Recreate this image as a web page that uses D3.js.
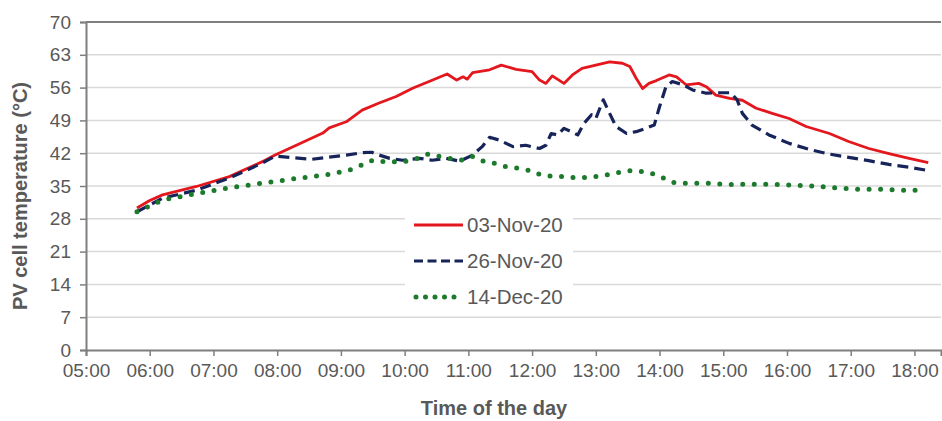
<!DOCTYPE html>
<html>
<head>
<meta charset="utf-8">
<script src="https://cdn.jsdelivr.net/npm/d3@7"></script>
<style>
  body { margin: 0; background: #fff; }
  svg { display: block; font-family: "Liberation Sans", Arial, sans-serif; }
</style>
</head>
<body>
<svg id="chart"></svg>
<script>
// series: [time, PV cell temperature °C]
const nov03 = [
  ["05:48", 30.3], ["06:00", 31.9], ["06:12", 33.1], ["06:44", 34.9], ["07:15", 37.0], ["07:46", 40.2],
  ["07:58", 41.6], ["08:18", 43.7], ["08:43", 46.3], ["08:49", 47.4], ["09:05", 48.7], ["09:20", 51.2],
  ["09:36", 52.7], ["09:52", 54.1], ["10:08", 55.9], ["10:23", 57.3], ["10:40", 58.9], ["10:49", 57.6],
  ["10:55", 58.3], ["10:59", 57.8], ["11:04", 59.2], ["11:20", 59.8], ["11:31", 60.8], ["11:45", 59.9],
  ["12:00", 59.4], ["12:07", 57.6], ["12:13", 56.9], ["12:19", 58.5], ["12:30", 56.9], ["12:38", 58.7],
  ["12:47", 60.1], ["13:00", 60.8], ["13:13", 61.5], ["13:25", 61.2], ["13:32", 60.5], ["13:38", 58.0],
  ["13:44", 55.8], ["13:50", 56.9], ["13:57", 57.5], ["14:09", 58.7], ["14:16", 58.3], ["14:25", 56.6],
  ["14:37", 56.9], ["14:44", 56.2], ["14:53", 54.4], ["15:06", 53.7], ["15:18", 53.3], ["15:31", 51.6],
  ["15:46", 50.5], ["16:02", 49.4], ["16:18", 47.7], ["16:40", 46.2], ["16:58", 44.5], ["17:17", 43.0],
  ["17:36", 41.9], ["17:55", 40.9], ["18:13", 40.0]
];
const nov26 = [
  ["05:48", 29.5], ["06:12", 32.4], ["06:44", 34.1], ["07:15", 36.7], ["07:46", 39.9], ["07:58", 41.4],
  ["08:12", 41.1], ["08:33", 40.7], ["09:05", 41.6], ["09:20", 42.1], ["09:29", 42.2], ["09:36", 41.6],
  ["09:46", 40.9], ["09:58", 40.5], ["10:14", 40.9], ["10:26", 40.5], ["10:39", 40.9], ["10:52", 40.3],
  ["11:04", 41.6], ["11:13", 43.4], ["11:20", 45.4], ["11:29", 44.8], ["11:42", 43.4], ["11:54", 43.7],
  ["12:07", 43.0], ["12:13", 43.7], ["12:18", 46.2], ["12:24", 45.9], ["12:30", 47.3], ["12:37", 46.6],
  ["12:43", 45.9], ["12:49", 48.4], ["12:56", 50.2], ["13:00", 49.4], ["13:07", 53.4], ["13:13", 50.5],
  ["13:19", 47.7], ["13:29", 46.2], ["13:38", 46.6], ["13:47", 47.3], ["13:55", 48.0], ["14:00", 51.9],
  ["14:06", 56.2], ["14:12", 57.3], ["14:22", 56.6], ["14:31", 55.5], ["14:44", 54.8], ["14:56", 54.9],
  ["15:07", 54.9], ["15:13", 53.4], ["15:18", 50.5], ["15:27", 48.0], ["15:43", 45.9], ["16:02", 44.1],
  ["16:21", 42.8], ["16:40", 41.8], ["16:58", 41.1], ["17:17", 40.4], ["17:36", 39.6], ["17:55", 39.0],
  ["18:13", 38.3]
];
const dec14 = [
  ["05:48", 29.5], ["06:12", 32.0], ["06:44", 33.4], ["07:12", 34.5], ["07:46", 35.6], ["08:18", 36.6],
  ["08:49", 37.5], ["09:08", 38.4], ["09:20", 39.5], ["09:30", 40.5], ["09:41", 40.2], ["09:52", 40.2],
  ["10:03", 40.3], ["10:12", 40.9], ["10:22", 41.8], ["10:33", 41.3], ["10:42", 40.9], ["10:53", 40.5],
  ["11:04", 41.3], ["11:15", 40.2], ["11:26", 39.8], ["11:36", 39.1], ["11:46", 38.8], ["11:58", 38.3],
  ["12:09", 37.3], ["12:18", 37.1], ["12:29", 37.0], ["12:40", 36.8], ["12:51", 36.8], ["13:02", 37.1],
  ["13:13", 37.5], ["13:22", 37.9], ["13:33", 38.3], ["13:44", 38.1], ["13:54", 37.6], ["14:05", 36.6],
  ["14:14", 35.7], ["14:25", 35.6], ["14:36", 35.6], ["14:47", 35.6], ["14:58", 35.4], ["15:08", 35.3],
  ["15:18", 35.4], ["15:40", 35.4], ["16:02", 35.2], ["16:24", 35.0], ["16:46", 34.6], ["17:08", 34.3],
  ["17:29", 34.3], ["17:52", 34.1], ["18:02", 34.1]
];
const seriesNames = ["03-Nov-20", "26-Nov-20", "14-Dec-20"];
const yTicks = [0, 7, 14, 21, 28, 35, 42, 49, 56, 63, 70];
const xTicks = ["05:00", "06:00", "07:00", "08:00", "09:00", "10:00", "11:00", "12:00", "13:00", "14:00", "15:00", "16:00", "17:00", "18:00"];

const width = 942, height = 421;
const margin = { top: 22, right: 1, bottom: 71, left: 86 };
const svg = d3.select("#chart").attr("width", width).attr("height", height);

const parse = d3.timeParse("%H:%M");
const x = d3.scaleTime().domain([parse("05:00"), parse("18:25")]).range([margin.left, width - margin.right]);
const y = d3.scaleLinear().domain([0, 70]).range([height - margin.bottom, margin.top]);

// gridlines
svg.append("g").selectAll("line").data(yTicks.slice(1, -1)).enter().append("line")
  .attr("x1", margin.left).attr("x2", width - margin.right)
  .attr("y1", d => y(d)).attr("y2", d => y(d))
  .attr("stroke", "#d9d9d9").attr("stroke-width", 1.5);

// top border
svg.append("line").attr("x1", margin.left).attr("x2", width - margin.right)
  .attr("y1", y(70)).attr("y2", y(70)).attr("stroke", "#7f7f7f").attr("stroke-width", 2);

const yAxis = svg.append("g").attr("transform", `translate(${margin.left},0)`)
  .call(d3.axisLeft(y).tickValues(yTicks).tickSize(6).tickPadding(9));
const xAxis = svg.append("g").attr("transform", `translate(0,${y(0)})`)
  .call(d3.axisBottom(x).tickValues(xTicks.map(parse)).tickFormat(d3.timeFormat("%H:%M")).tickSize(6).tickPadding(8));

[yAxis, xAxis].forEach(a => {
  a.select(".domain").attr("stroke", "#7f7f7f").attr("stroke-width", 2);
  a.selectAll(".tick line").attr("stroke", "#7f7f7f").attr("stroke-width", 1.5);
  a.selectAll("text").attr("fill", "#595959").style("font-size", "19px");
});

svg.append("text")
  .attr("transform", "rotate(-90)")
  .attr("x", -196).attr("y", 27)
  .attr("text-anchor", "middle")
  .style("font-size", "20px").style("font-weight", "bold").style("fill", "#595959")
  .text("PV cell temperature (°C)");

svg.append("text")
  .attr("x", 494).attr("y", 415)
  .attr("text-anchor", "middle")
  .style("font-size", "20px").style("font-weight", "bold").style("fill", "#595959")
  .text("Time of the day");

const line = d3.line().x(d => x(parse(d[0]))).y(d => y(d[1]));

const styles = [
  { color: "#e3171d", width: 2.8, dash: null, cap: "butt" },
  { color: "#16245a", width: 3.2, dash: "11,6", cap: "butt" },
  { color: "#1b7a2c", width: 5, dash: "0,11.5", cap: "round" }
];

[nov03, nov26, dec14].forEach((s, i) => {
  svg.append("path").datum(s)
    .attr("fill", "none")
    .attr("stroke", styles[i].color)
    .attr("stroke-width", styles[i].width)
    .attr("stroke-dasharray", styles[i].dash)
    .attr("stroke-linecap", styles[i].cap)
    .attr("stroke-linejoin", "round")
    .attr("d", line);
});

// legend
const legend = svg.append("g");
legend.append("rect").attr("x", 405).attr("y", 204).attr("width", 168).attr("height", 108).attr("fill", "#fff");
seriesNames.forEach((name, i) => {
  const ly = 225 + i * 36;
  legend.append("line")
    .attr("x1", i === 2 ? 416 : 414).attr("x2", 463).attr("y1", ly).attr("y2", ly)
    .attr("stroke", styles[i].color)
    .attr("stroke-width", styles[i].width)
    .attr("stroke-dasharray", i === 1 ? "9,4.5" : (i === 2 ? "0,9.5" : null))
    .attr("stroke-linecap", styles[i].cap);
  legend.append("text")
    .attr("x", 467).attr("y", ly + 7)
    .style("font-size", "20.5px").style("fill", "#595959")
    .text(name);
});
</script>
</body>
</html>
